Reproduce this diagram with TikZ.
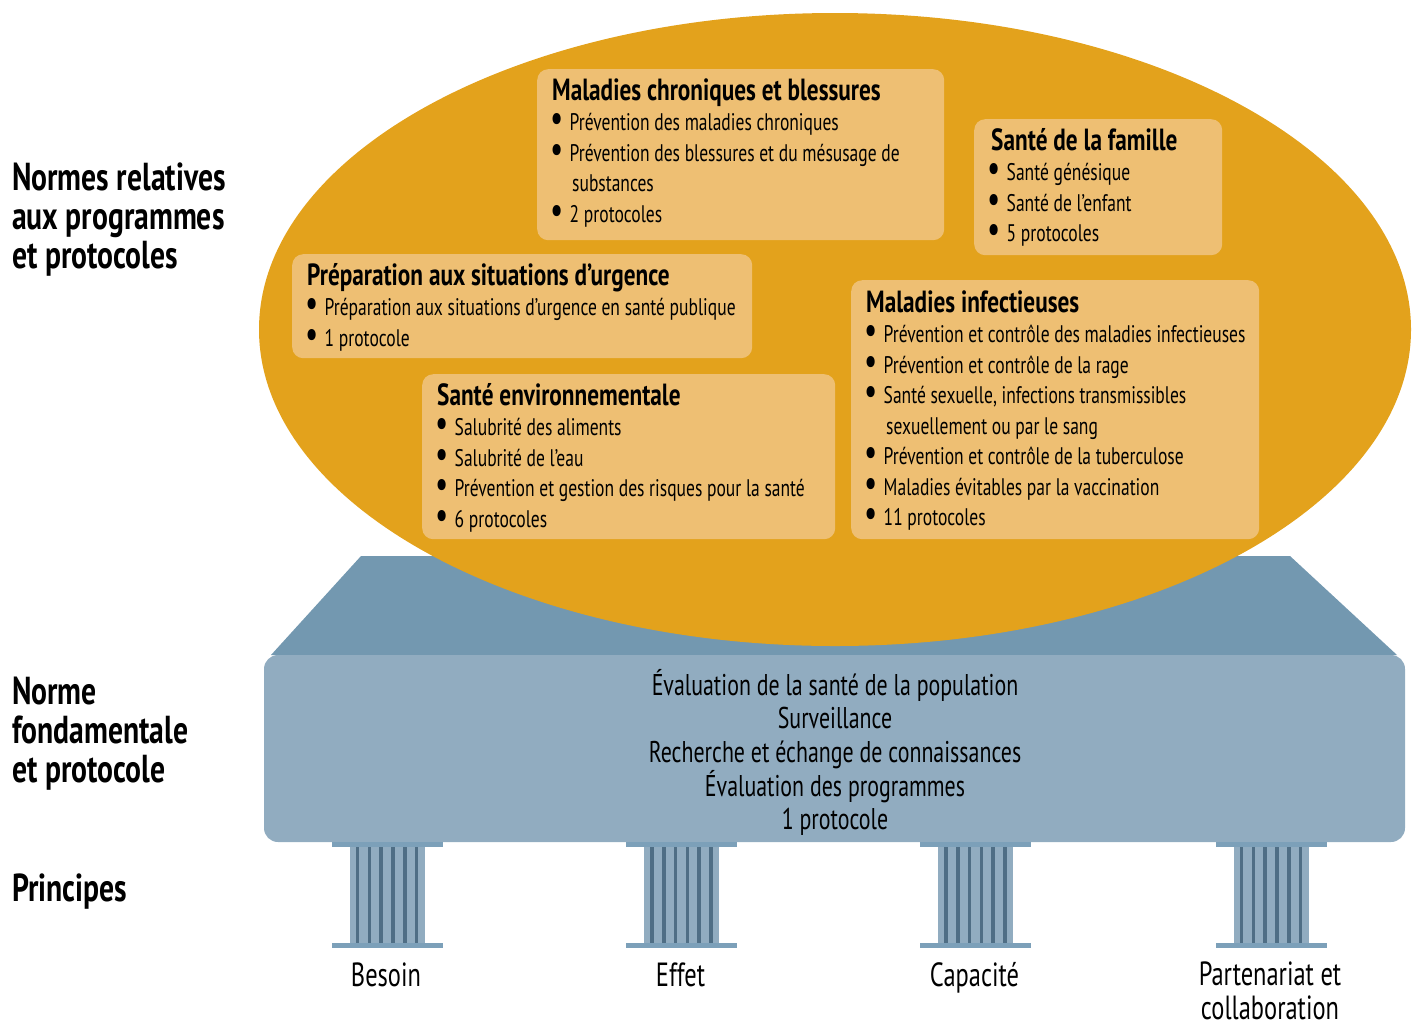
\documentclass[tikz,border=0pt]{standalone}
\usepackage{fontspec}
\setmainfont[FakeStretch=0.73,BoldFeatures={FakeStretch=0.76}]{PT Sans}
\usetikzlibrary{positioning}
\definecolor{ovalc}{HTML}{E3A21C}
\definecolor{boxc}{HTML}{EEBF73}
\definecolor{beamc}{HTML}{91ACC0}
\definecolor{roofc}{HTML}{7398B0}
\definecolor{barc}{HTML}{7CA0B9}
\definecolor{flutec}{HTML}{4F6E85}
\newcommand{\puce}[1]{\mbox{\spaceskip=0pt\hspace*{-2pt}\makebox[19.5pt][l]{\raisebox{-1pt}[0pt][0pt]{\fontsize{40}{0}\selectfont\textbullet}}#1}}
\newcommand{\suite}[1]{\mbox{\spaceskip=0pt\hspace*{20pt}#1}}
\newcommand{\titre}[1]{\mbox{\spaceskip=0pt\fontsize{30.6}{30.5}\selectfont\bfseries #1}}
\tikzset{
	listbox/.style={fill=boxc, rounded corners=11pt, anchor=north west, inner xsep=15pt, inner ysep=0pt, align=left, font=\fontsize{24}{30.5}\selectfont},
	sidelabel/.style={anchor=base west, inner sep=0pt, align=left, font=\fontsize{39}{39}\selectfont\bfseries},
	pillarlabel/.style={anchor=base, inner sep=0pt, align=center, font=\fontsize{33.5}{34}\selectfont},
}

\begin{document}
\begin{tikzpicture}[x=1pt, y=-1pt]
	\useasboundingbox (0, 0) rectangle (1415, 1021);

	\fill [roofc] (361, 556) -- (1290, 556) -- (1397, 655) -- (271, 655) -- cycle;
	\fill [ovalc] (835, 329.5) ellipse [x radius=576, y radius=316.5];

	\node [listbox, text width=377pt, minimum height=171pt, text height=19pt, text depth=128pt] (chronic) at (537, 69) {\titre{Maladies chroniques et blessures}\\
		\puce{Prévention des maladies chroniques}\\
		\puce{Prévention des blessures et du mésusage de}\\
		\suite{substances}\\
		\puce{2 protocoles}};
	\node [listbox, text width=218pt, minimum height=136pt, text height=23.5pt, text depth=97.5pt] (family) at (974, 119) {\hspace*{2pt}\titre{Santé de la famille}\\
		\puce{Santé génésique}\\
		\puce{Santé de l’enfant}\\
		\puce{5 protocoles}};
	\node [listbox, text width=430pt, minimum height=104pt, text height=25pt, text depth=67pt] (urgency) at (292, 254) {\titre{Préparation aux situations d’urgence}\\
		\puce{Préparation aux situations d’urgence en santé publique}\\
		\puce{1 protocole}};
	\node [listbox, text width=383pt, minimum height=165pt, text height=25pt, text depth=128pt] (environ) at (422, 374) {\titre{Santé environnementale}\\
		\puce{Salubrité des aliments}\\
		\puce{Salubrité de l’eau}\\
		\puce{Prévention et gestion des risques pour la santé}\\
		\puce{6 protocoles}};
	\node [listbox, text width=378pt, minimum height=259pt, text height=24.5pt, text depth=219.5pt] (infect) at (851, 280) {\titre{Maladies infectieuses}\\
		\puce{Prévention et contrôle des maladies infectieuses}\\
		\puce{Prévention et contrôle de la rage}\\
		\puce{Santé sexuelle, infections transmissibles}\\
		\suite{sexuellement ou par le sang}\\
		\puce{Prévention et contrôle de la tuberculose}\\
		\puce{Maladies évitables par la vaccination}\\
		\puce{11 protocoles}};

	\node [fill=beamc, minimum width=1141pt, minimum height=187pt, rounded corners=14pt] (beam) at (834.5, 748.5) {};
	\node [inner sep=0pt, align=center, font=\fontsize{30}{33.7}\selectfont] (beamtext) at (835, 752.5) {Évaluation de la santé de la population\\
		Surveillance\\
		Recherche et échange de connaissances\\
		Évaluation des programmes\\
		1 protocole};

	\foreach \px/\name/\py in {387/Besoin/986, 681.5/Effet/986, 975.5/Capacité/986, 1271/Partenariat et\\collaboration/1019.5} {
		\fill [beamc] (\px-37.5, 847) rectangle (\px+37.5, 943);
		\foreach \k in {-2.5, -1.5, -0.5, 0.5, 1.5, 2.5}
			\fill [flutec] (\px+\k*11.8-1.8, 847) rectangle (\px+\k*11.8+1.8, 943);
		\fill [barc] (\px-55.5, 842) rectangle (\px+55.5, 847);
		\fill [barc] (\px-55.5, 943) rectangle (\px+55.5, 947.5);
		\node [pillarlabel] (label\px) at (\px-1, \py) {\name};
	}

	\node [sidelabel] (normes) at (12, 268) {Normes relatives\\aux programmes\\et protocoles};
	\node [sidelabel] (fonda) at (12, 782) {Norme\\fondamentale\\et protocole};
	\node [sidelabel] (princ) at (12, 901) {Principes};
\end{tikzpicture}
\end{document}
